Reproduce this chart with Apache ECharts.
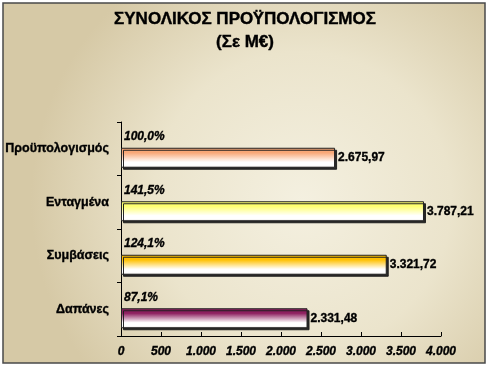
<!DOCTYPE html>
<html><head><meta charset="utf-8">
<script src="https://cdn.jsdelivr.net/npm/echarts@6/dist/echarts.min.js"></script>
<style>html,body{margin:0;padding:0;background:#fff}#c{width:490px;height:368px}</style>
</head><body><div id="c"></div>
<script>
const categories = ['Προϋπολογισμός', 'Ενταγμένα', 'Συμβάσεις', 'Δαπάνες'];
const values = [2675.97, 3787.21, 3321.72, 2331.48];
const percents = ['100,0%', '141,5%', '124,1%', '87,1%'];
const tickLabels = ['0', '500', '1.000', '1.500', '2.000', '2.500', '3.000', '3.500', '4.000'];
const barColors = ['#F8A878', '#FFFF70', '#FFC000', '#8E2060'];

const FONT = '"Liberation Sans", Arial, sans-serif';
const THICK = {textBorderColor:'#000', textBorderWidth:0.35};
function fmt(v){
  const parts = v.toFixed(2).split('.');
  return parts[0].replace(/\B(?=(\d{3})+(?!\d))/g, '.') + ',' + parts[1];
}
function grad(c){
  return {type:'linear', x:0, y:0, x2:0, y2:1, colorStops:[
    {offset:0, color:c}, {offset:0.25, color:c}, {offset:0.72, color:'#FFFFFF'}, {offset:0.88, color:'#FFFFFF'}, {offset:1, color:'#E2DEDA'}]};
}
const chart = echarts.init(document.getElementById('c'), null, {renderer:'canvas'});
chart.setOption({
  animation:false,
  graphic:[
    {type:'rect', z:-10, silent:true, shape:{x:3, y:3, width:482, height:360},
     style:{fill:{type:'radial', x:0.62, y:0.55, r:0.75, colorStops:[
       {offset:0, color:'#F4F0E0'}, {offset:0.55, color:'#EBE4CC'}, {offset:1, color:'#D6C9A6'}]},
       stroke:'#4a4a4a', lineWidth:1.5}},
    {type:'text', left:'center', top:11, z:10, style:{text:'ΣΥΝΟΛΙΚΟΣ ΠΡΟΫΠΟΛΟΓΙΣΜΟΣ', font:'bold 17px '+FONT, fill:'#000', stroke:'#000', lineWidth:0.4}},
    {type:'text', left:'center', top:34, z:10, style:{text:'(Σε Μ€)', font:'bold 17px '+FONT, fill:'#000', stroke:'#000', lineWidth:0.4}}
  ],
  grid:{left:121, right:49, top:122, height:214, containLabel:false},
  xAxis:{type:'value', min:0, max:4000, interval:500,
    axisLine:{show:true, lineStyle:{color:'#000', width:1}},
    axisTick:{show:true, inside:true, length:4, lineStyle:{color:'#000'}},
    splitLine:{show:false},
    axisLabel:Object.assign({margin:10, fontFamily:FONT, fontSize:12, fontWeight:'bold', fontStyle:'italic', color:'#000',
      formatter:(v)=>tickLabels[Math.round(v/500)]}, THICK)},
  yAxis:{type:'category', data:categories, inverse:true,
    axisLine:{show:true, lineStyle:{color:'#000', width:1}},
    axisTick:{show:true, length:4, lineStyle:{color:'#000'}},
    axisLabel:Object.assign({margin:12, fontFamily:FONT, fontSize:12.5, fontWeight:'bold', color:'#000'}, THICK)},
  series:[
    {type:'bar', barWidth:20, barGap:'-10%', silent:true,
     data:values.map(v=>({value:v})),
     itemStyle:{color:'rgba(0,0,0,0)'},
     label:Object.assign({show:true, position:'insideLeft', offset:[-2,-3], fontFamily:FONT, fontSize:12, fontWeight:'bold', fontStyle:'italic', color:'#000',
       formatter:(p)=>percents[p.dataIndex]}, THICK)},
    {type:'bar', barWidth:20, barGap:'-10%',
     data:values.map((v,i)=>({value:v, itemStyle:{color:grad(barColors[i])}})),
     itemStyle:{borderColor:'#222', borderWidth:1, shadowColor:'rgba(30,30,30,0.95)', shadowOffsetX:2, shadowOffsetY:2, shadowBlur:0},
     label:Object.assign({show:true, position:'right', distance:3, fontFamily:FONT, fontSize:12, fontWeight:'bold', color:'#000',
       formatter:(p)=>fmt(p.value)}, THICK)}
  ]
});
</script></body></html>
